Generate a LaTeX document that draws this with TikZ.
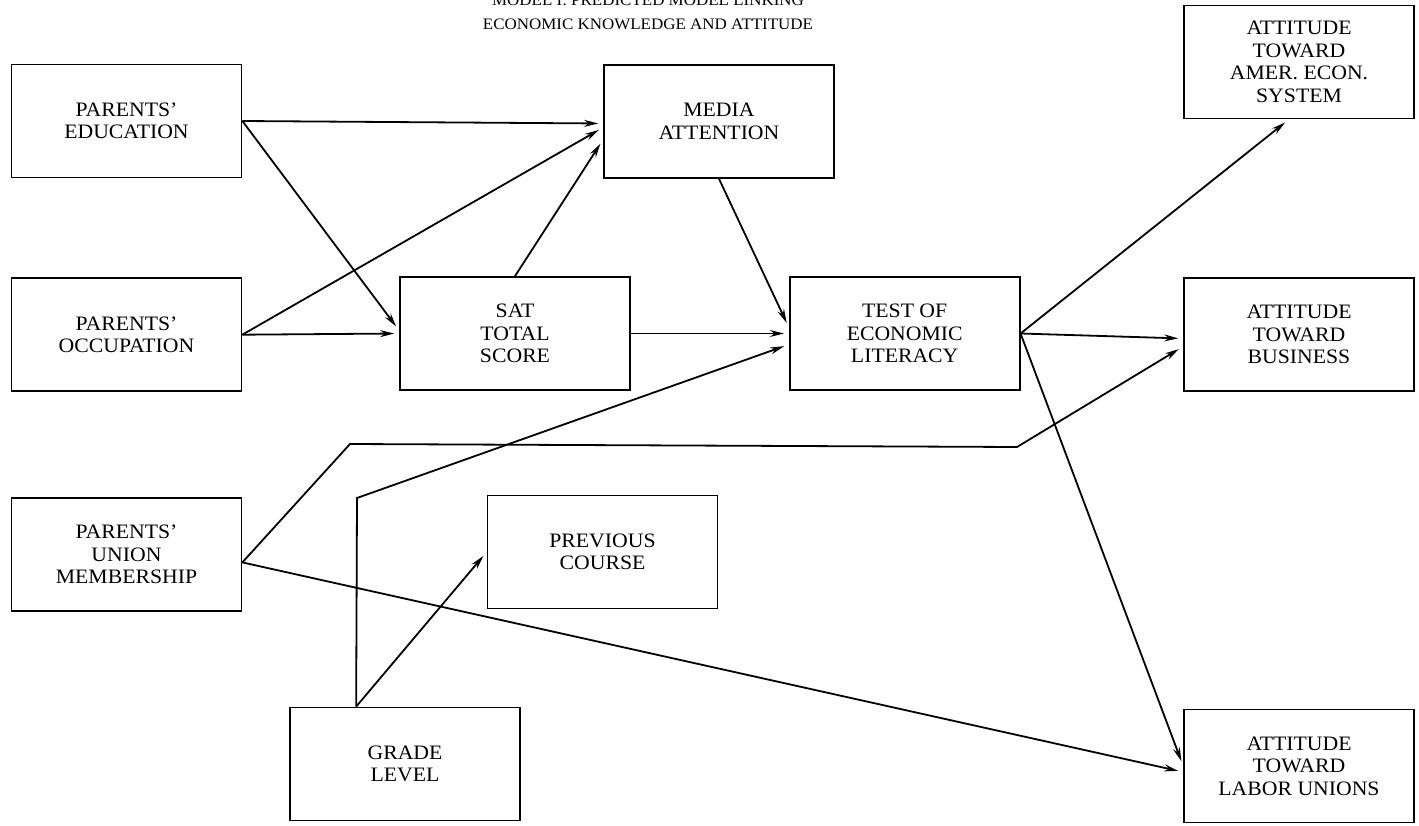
\documentclass[tikz,border=0pt]{standalone}
\usepackage{fontspec}
\setmainfont{Liberation Serif}[FakeStretch=1.06]
\usetikzlibrary{arrows.meta}
\usetikzlibrary{positioning, calc}
\tikzset{
    varbox/.style = {draw=black, line width=1.7pt, minimum width=230pt,
        minimum height=113pt, inner sep=0pt, align=center,
        font=\fontsize{20.5}{22.5}\selectfont},
    heading/.style = {align=center, inner sep=0pt,
        font=\fontsize{16}{24}\selectfont},
    link/.style = {line width=1.8pt, shorten >=5pt},
}

\begin{document}
\begin{tikzpicture}[->,>={Stealth[length=14pt,width=7pt]},x=1pt,y=-1pt]
    \useasboundingbox (0,0) rectangle (1419,826);
    \node [heading, anchor=north] (title) at (648,-5) {MODEL I: PREDICTED MODEL LINKING\\ECONOMIC KNOWLEDGE AND ATTITUDE};
    \node [varbox] (edu) at (126.5,121) {PARENTS'\\EDUCATION};
    \node [varbox, below=99pt of edu] (occ) {PARENTS'\\OCCUPATION};
    \node [varbox, below=105pt of occ] (union) {PARENTS'\\UNION\\MEMBERSHIP};
    \node [varbox] (media) at (719,121.5) {MEDIA\\ATTENTION};
    \node [varbox] (sat) at (515,333.5) {SAT\\TOTAL\\SCORE};
    \node [varbox, right=158pt of sat] (tel) {TEST OF\\ECONOMIC\\LITERACY};
    \node [varbox] (prev) at (602.5,552) {PREVIOUS\\COURSE};
    \node [varbox] (grade) at (405,764) {GRADE\\LEVEL};
    \node [varbox] (att_econ) at (1299,62) {ATTITUDE\\TOWARD\\AMER. ECON.\\SYSTEM};
    \node [varbox] (att_bus) at (1299,334.5) {ATTITUDE\\TOWARD\\BUSINESS};
    \node [varbox] (att_union) at (1299,766) {ATTITUDE\\TOWARD\\LABOR UNIONS};

    \coordinate (bend_a) at (350,444);
    \coordinate (bend_b) at (1017,447);
    \coordinate (bend_c) at (357,498);

    \draw [link] (edu.east) -- ([yshift=-2pt]media.west);
    \draw [link] (edu.east) -- ([yshift=3pt]sat.west);
    \draw [link] (occ.east) -- ([yshift=-6pt]media.west);
    \draw [link] (occ.east) -- (sat.west);
    \draw [link] (sat.north) -- ([yshift=-18pt]media.west);
    \draw [link] (media.south) -- ([yshift=6pt]tel.west);
    \draw [link] (sat.east) -- (tel.west);
    \draw [link] (tel.east) -- ([xshift=-10pt]att_econ.south);
    \draw [link] (tel.east) -- ([yshift=-4pt]att_bus.west);
    \draw [link] (tel.east) -- (att_union.west);
    \draw [link] ([yshift=-8pt]union.east) -- (bend_a) -- (bend_b) -- ([yshift=-12pt]att_bus.west);
    \draw [link] ([yshift=-8pt]union.east) -- ([yshift=-6pt]att_union.west);
    \draw [link] ([xshift=67pt]grade.north west) -- (bend_c) -- ([yshift=-11pt]tel.west);
    \draw [link] ([xshift=67pt]grade.north west) -- (prev.west);
\end{tikzpicture}
\end{document}
